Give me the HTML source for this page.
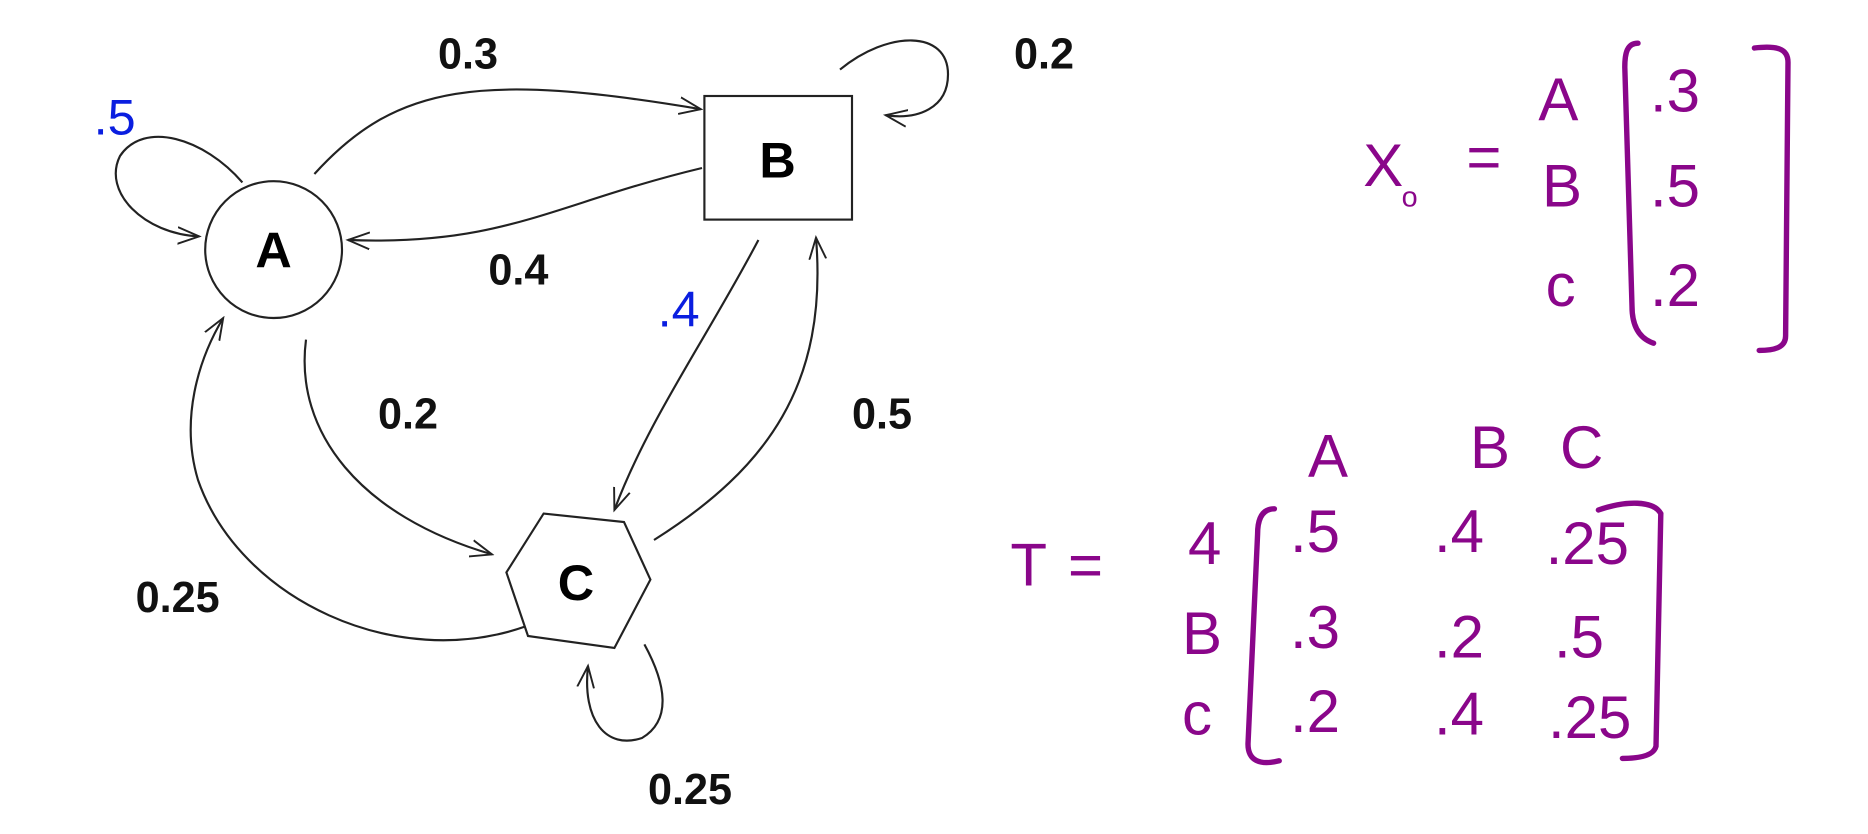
<!DOCTYPE html>
<html><head><meta charset="utf-8"><style>
html,body{margin:0;padding:0;background:#fff;}
svg{display:block;}
.l{font-family:"Liberation Sans",sans-serif;font-weight:bold;font-size:36px;fill:#111;}
.n{font-family:"Liberation Sans",sans-serif;font-weight:bold;font-size:42px;fill:#000;}
.p{font-family:"Liberation Sans",sans-serif;font-size:50px;fill:#8a068a;}
.b{font-family:"Liberation Sans",sans-serif;font-size:42px;fill:#0a1ee0;}
</style></head><body>
<svg width="1868" height="834" viewBox="0 0 1868 834" xmlns="http://www.w3.org/2000/svg">
<defs>
<marker id="ar" viewBox="0 0 20 20" refX="18" refY="10" markerWidth="20" markerHeight="20" markerUnits="userSpaceOnUse" orient="auto">
<path d="M0,3 L18,10 L0,17" fill="none" stroke="#222" stroke-width="1.6"/>
</marker>
</defs>
<g transform="scale(1.2)">
<g fill="none" stroke="#222" stroke-width="1.8">
<circle cx="228" cy="208" r="57"/>
<rect x="587" y="80" width="123" height="103"/>
<polygon points="453,428 520,435 542,483 512,540 440,530 422,477"/>
<path d="M202,152 C170,115 120,100 100,130 C85,160 120,195 166,197" marker-end="url(#ar)"/>
<path d="M262,145 C330,70 400,60 584,91" marker-end="url(#ar)"/>
<path d="M585,140 C460,170 420,205 290,200" marker-end="url(#ar)"/>
<path d="M700,58 C740,25 790,25 790,62 C790,90 765,100 738,96" marker-end="url(#ar)"/>
<path d="M255,283 C245,360 300,430 410,462" marker-end="url(#ar)"/>
<path d="M438,522 C330,560 200,500 165,400 C150,350 165,300 186,265" marker-end="url(#ar)"/>
<path d="M632,200 C590,280 540,350 512,425" marker-end="url(#ar)"/>
<path d="M545,450 C640,390 690,320 680,198" marker-end="url(#ar)"/>
<path d="M537,537 C555,570 560,600 535,615 C505,625 485,600 490,555" marker-end="url(#ar)"/>
</g>
<text class="n" x="228" y="223" text-anchor="middle">A</text>
<text class="n" x="648" y="148" text-anchor="middle">B</text>
<text class="n" x="480" y="500" text-anchor="middle">C</text>
<text class="l" x="390" y="57" text-anchor="middle">0.3</text>
<text class="l" x="870" y="57" text-anchor="middle">0.2</text>
<text class="l" x="432" y="237" text-anchor="middle">0.4</text>
<text class="l" x="340" y="357" text-anchor="middle">0.2</text>
<text class="l" x="735" y="357" text-anchor="middle">0.5</text>
<text class="l" x="148" y="510" text-anchor="middle">0.25</text>
<text class="l" x="575" y="670" text-anchor="middle">0.25</text>
<text class="b" x="78" y="112">.5</text>
<text class="b" x="548" y="272">.4</text>
<g fill="none" stroke="#8a068a" stroke-width="4.5" stroke-linecap="round">
<path d="M1365,36 C1356,36 1354,44 1354,56 L1360,255 C1360,272 1366,282 1378,286"/>
<path d="M1462,40 C1480,38 1490,40 1490,52 L1488,280 C1488,290 1478,292 1466,292"/>
<path d="M1062,424 C1052,424 1048,432 1048,445 L1040,620 C1040,634 1050,638 1066,634"/>
<path d="M1332,425 C1355,417 1378,417 1384,428 L1380,622 C1378,630 1365,632 1352,632"/>
</g>
<text class="p" x="1136" y="155">X</text>
<text class="p" x="1168" y="172" style="font-size:24px">o</text>
<text class="p" x="1222" y="148">=</text>
<text class="p" x="1282" y="100">A</text>
<text class="p" x="1285" y="172">B</text>
<text class="p" x="1288" y="255">c</text>
<text class="p" x="1375" y="93">.3</text>
<text class="p" x="1375" y="172">.5</text>
<text class="p" x="1375" y="255">.2</text>
<text class="p" x="842" y="488">T</text>
<text class="p" x="890" y="488">=</text>
<text class="p" x="990" y="470">4</text>
<text class="p" x="985" y="545">B</text>
<text class="p" x="985" y="612">c</text>
<text class="p" x="1090" y="397">A</text>
<text class="p" x="1225" y="390">B</text>
<text class="p" x="1300" y="390">C</text>
<text class="p" x="1075" y="460">.5</text>
<text class="p" x="1195" y="460">.4</text>
<text class="p" x="1288" y="470">.25</text>
<text class="p" x="1075" y="540">.3</text>
<text class="p" x="1195" y="548">.2</text>
<text class="p" x="1295" y="548">.5</text>
<text class="p" x="1075" y="610">.2</text>
<text class="p" x="1195" y="612">.4</text>
<text class="p" x="1290" y="615">.25</text>
</g>
</svg>
</body></html>
